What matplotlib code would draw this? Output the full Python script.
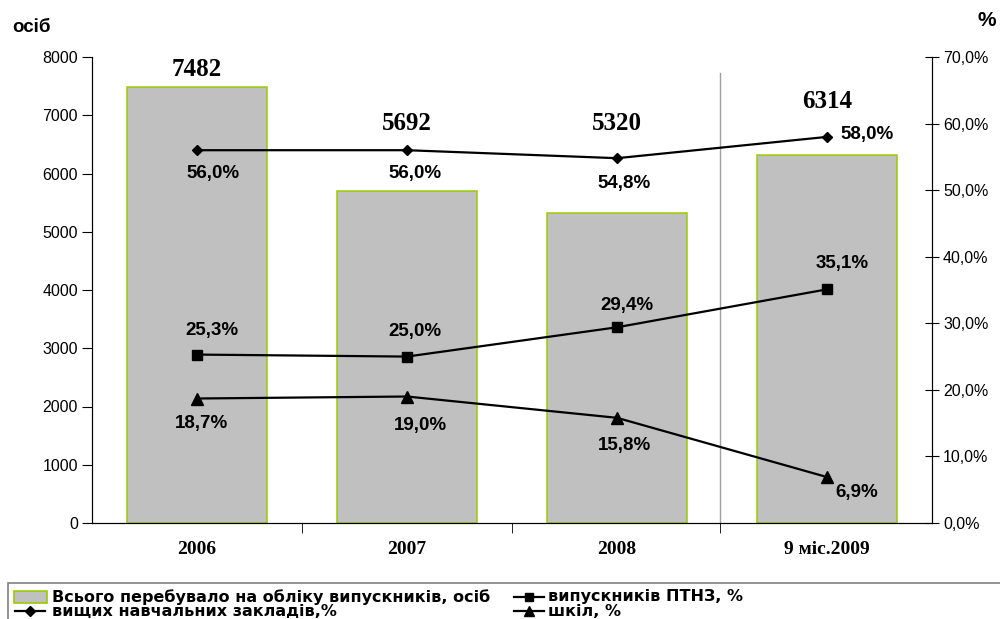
import matplotlib.pyplot as plt
import numpy as np
from matplotlib.lines import Line2D
from matplotlib.patches import Rectangle

years = ['2006', '2007', '2008', '9 міс.2009']
total = [7482, 5692, 5320, 6314]
higher = [56.0, 56.0, 54.8, 58.0]
vocational = [25.3, 25.0, 29.4, 35.1]
schools = [18.7, 19.0, 15.8, 6.9]

plt.rcParams['font.family'] = ['Liberation Sans', 'DejaVu Sans']

W, H = 1000, 619
fig = plt.figure(figsize=(W / 100, H / 100), dpi=100)
ax = fig.add_axes([0.092, 1 - 523 / H, 0.84, 466 / H])
ax2 = ax.twinx()

x = np.arange(len(years))
ax.bar(x, total, width=0.67, color='#C0C0C0', edgecolor='#99CC00', linewidth=1.1, zorder=2)
ax.set_xlim(-0.5, 3.5)
ax.set_ylim(0, 8000)
ax.set_yticks(range(0, 8001, 1000))
ax.tick_params(axis='y', labelsize=11.5, length=7, direction='out', pad=3)
ax.set_xticks(x)
ax.set_xticklabels(years, fontfamily='Liberation Serif', fontweight='bold', fontsize=14)
ax.tick_params(axis='x', length=0, pad=13)
ax.set_xticks([0.5, 1.5, 2.49], minor=True)
ax.tick_params(axis='x', which='minor', length=7, direction='out')
ax.spines['top'].set_visible(False)
ax2.spines['top'].set_visible(False)

# separator between the full years and the 9-month period
ax.plot([2.49, 2.49], [0, 7725], color='#A0A0A0', lw=1, zorder=1)

# bar values
label_y = [7780, 6850, 6850, 7230]
for xi, v, ly in zip(x, total, label_y):
    ax.text(xi, ly, str(v), ha='center', va='center', fontfamily='Liberation Serif',
            fontweight='bold', fontsize=18)

ax2.set_ylim(0, 70)
ax2.set_yticks(range(0, 71, 10))
ax2.set_yticklabels([f'{t},0%' for t in range(0, 71, 10)])
ax2.tick_params(axis='y', labelsize=11.5, length=10, direction='inout', pad=3)

ax2.plot(x, higher, color='black', lw=1.6, marker='D', ms=5.5, zorder=3)
ax2.plot(x, vocational, color='black', lw=1.6, marker='s', ms=7, zorder=3)
ax2.plot(x, schools, color='black', lw=1.6, marker='^', ms=8, zorder=3)

def fmt(v):
    return f'{v:.1f}%'.replace('.', ',')

lab = dict(ha='center', va='center', fontsize=13.5, fontweight='bold')
higher_off = [(16, -23), (8, -23), (7, -25), (40, 2)]
voc_off = [(15, 24), (8, 25), (10, 22), (15, 26)]
sch_off = [(5, -25), (13, -29), (8, -28), (30, -15)]
for series, offs in ((higher, higher_off), (vocational, voc_off), (schools, sch_off)):
    for xi, v, o in zip(x, series, offs):
        ax2.annotate(fmt(v), (xi, v), xytext=o, textcoords='offset pixels', **lab)

fig.text(12 / W, 1 - 28 / H, 'осіб', fontsize=13.5, fontweight='bold', va='center')
fig.text(978 / W, 1 - 21 / H, '%', fontsize=15, fontweight='bold', va='center')

# legend box along the bottom edge
def fx(px):
    return px / W

def fy(py):
    return 1 - py / H

fig.patches.append(Rectangle((fx(8), fy(630)), fx(1000), 47 / H, transform=fig.transFigure,
                             facecolor='white', edgecolor='#808080', lw=1.2, clip_on=False))
fig.patches.append(Rectangle((fx(14), fy(603)), 33 / W, 12 / H, transform=fig.transFigure,
                             facecolor='#C0C0C0', edgecolor='#99CC00', lw=1.2))
for x0, py, m, ms in ((15, 611, 'D', 5), (514, 597, 's', 6), (514, 611, '^', 7)):
    fig.add_artist(Line2D([fx(x0), fx(x0 + 30)], [fy(py), fy(py)], transform=fig.transFigure,
                          color='black', lw=1.6))
    fig.add_artist(Line2D([fx(x0 + 15)], [fy(py)], transform=fig.transFigure,
                          color='black', marker=m, ms=ms, lw=0))

leg_font = dict(family='DejaVu Sans', fontweight='bold', fontsize=11.5, va='center')
fig.text(fx(52), fy(597), 'Всього перебувало на обліку випускників, осіб', **leg_font)
fig.text(fx(52), fy(611), 'вищих навчальних закладів,%', **leg_font)
fig.text(fx(548), fy(597), 'випускників ПТНЗ, %', **leg_font)
fig.text(fx(548), fy(611), 'шкіл, %', **leg_font)

fig.savefig('out.png', dpi=100)
